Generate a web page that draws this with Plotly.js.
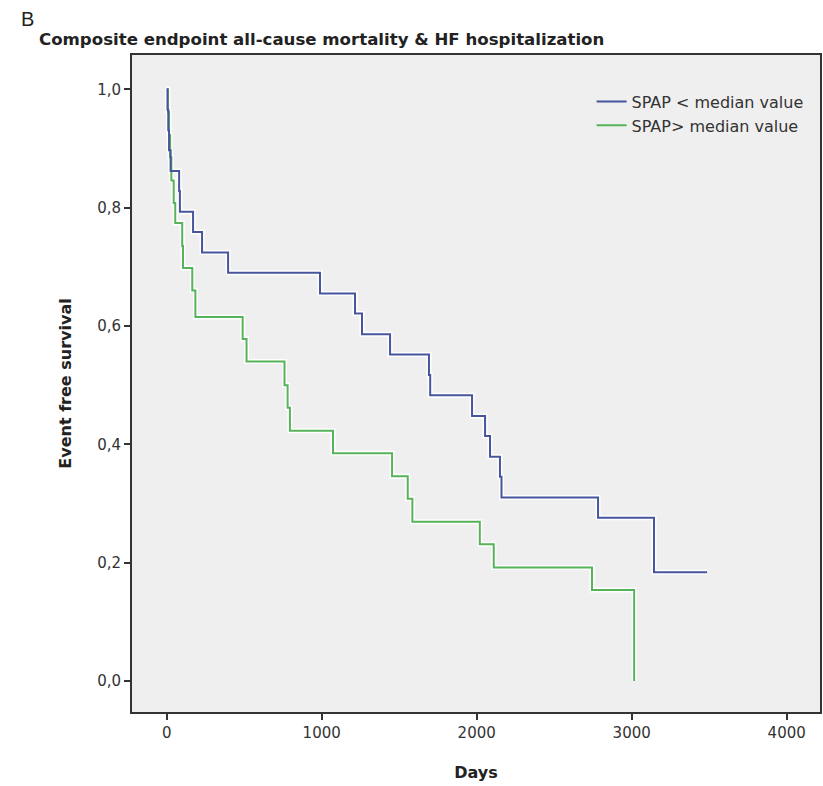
<!DOCTYPE html>
<html>
<head>
<meta charset="utf-8">
<script src="https://cdn.plot.ly/plotly-3.0.1.min.js"></script>
<style>
html,body{margin:0;padding:0;background:#fff;}
#chart{width:823px;height:786px;}
</style>
</head>
<body>
<div id="chart"></div>
<script>
// Kaplan-Meier step data
var blueName = "SPAP < median value";
var blueDays = [0, 5, 10, 15, 25, 80, 85, 170, 228, 396, 989, 1215, 1260, 1441, 1692, 1700, 1970, 2054, 2086, 2150, 2160, 2783, 3144, 3486];
var blueSurv = [1.0, 0.966, 0.931, 0.897, 0.862, 0.828, 0.793, 0.759, 0.724, 0.69, 0.655, 0.621, 0.586, 0.552, 0.517, 0.483, 0.448, 0.414, 0.379, 0.345, 0.31, 0.276, 0.184, 0.184];

var greenName = "SPAP> median value";
var greenDays = [0, 8, 15, 22, 30, 45, 55, 100, 105, 165, 185, 490, 515, 760, 780, 795, 1073, 1454, 1555, 1585, 2020, 2110, 2744, 3016];
var greenSurv = [1.0, 0.962, 0.923, 0.885, 0.846, 0.808, 0.774, 0.735, 0.698, 0.66, 0.615, 0.578, 0.54, 0.50, 0.462, 0.423, 0.385, 0.346, 0.308, 0.269, 0.231, 0.192, 0.154, 0.0];

var xTicks = [0, 1000, 2000, 3000, 4000];
var yTicks = [0, 0.2, 0.4, 0.6, 0.8, 1.0];

var chartTitle = "Composite endpoint all-cause mortality &amp; HF hospitalization";
var panelLabel = "B";
var xTitle = "Days";
var yTitle = "Event free survival";

var blueColor = "#46559c";
var greenColor = "#56b35a";
var FONT = "DejaVu Sans, Verdana, sans-serif";

function halo(x, y) {
  return {x: x, y: y, type: "scatter", mode: "lines", line: {shape: "hv", color: "#ffffff", width: 5},
          showlegend: false, hoverinfo: "skip"};
}

var data = [
  halo(greenDays, greenSurv),
  halo(blueDays, blueSurv),
  {x: greenDays, y: greenSurv, type: "scatter", mode: "lines", name: greenName,
   line: {shape: "hv", color: greenColor, width: 2}},
  {x: blueDays, y: blueSurv, type: "scatter", mode: "lines", name: blueName,
   line: {shape: "hv", color: blueColor, width: 2}}
];

var layout = {
  width: 823, height: 786,
  paper_bgcolor: "#ffffff",
  plot_bgcolor: "#efefef",
  separators: ",.",
  margin: {l: 132, r: 3, t: 55, b: 74, pad: 0},
  font: {family: FONT, size: 14, color: "#333333"},
  showlegend: true,
  legend: {
    x: 0.668, y: 0.955, xanchor: "left", yanchor: "top",
    bgcolor: "rgba(0,0,0,0)", borderwidth: 0,
    traceorder: "reversed",
    font: {family: FONT, size: 16, color: "#333333"},
    itemwidth: 30, tracegroupgap: 0
  },
  xaxis: {
    range: [-224, 4215],
    tickmode: "array", tickvals: xTicks,
    ticks: "outside", ticklen: 6, tickwidth: 2, tickcolor: "#333333",
    showline: true, linecolor: "#333333", linewidth: 2, mirror: true,
    showgrid: false, zeroline: false,
    tickfont: {family: FONT, size: 15, color: "#333333"},
    title: {text: "<b>" + xTitle + "</b>", font: {size: 16, color: "#222222", family: FONT}, standoff: 26}
  },
  yaxis: {
    range: [-0.0524, 1.058],
    tickmode: "array", tickvals: yTicks, tickformat: ".1f",
    ticks: "outside", ticklen: 6, tickwidth: 2, tickcolor: "#333333",
    showline: true, linecolor: "#333333", linewidth: 2, mirror: true,
    showgrid: false, zeroline: false,
    tickfont: {family: FONT, size: 15, color: "#333333"},
    title: {text: "<b>" + yTitle + "</b>", font: {size: 16, color: "#222222", family: FONT}, standoff: 22}
  },
  annotations: [
    {text: panelLabel, xref: "paper", yref: "paper", x: 0, y: 1, xshift: -113, yshift: 49,
     xanchor: "left", yanchor: "top", showarrow: false,
     font: {size: 20, color: "#222222", family: "Liberation Sans, Arial, sans-serif"}},
    {text: "<b>" + chartTitle + "</b>", xref: "paper", yref: "paper", x: 0, y: 1, xshift: -95, yshift: 27,
     xanchor: "left", yanchor: "top", showarrow: false,
     font: {size: 16.6, color: "#222222", family: FONT}}
  ]
};

Plotly.newPlot("chart", data, layout, {displayModeBar: false, staticPlot: true});
</script>
</body>
</html>
